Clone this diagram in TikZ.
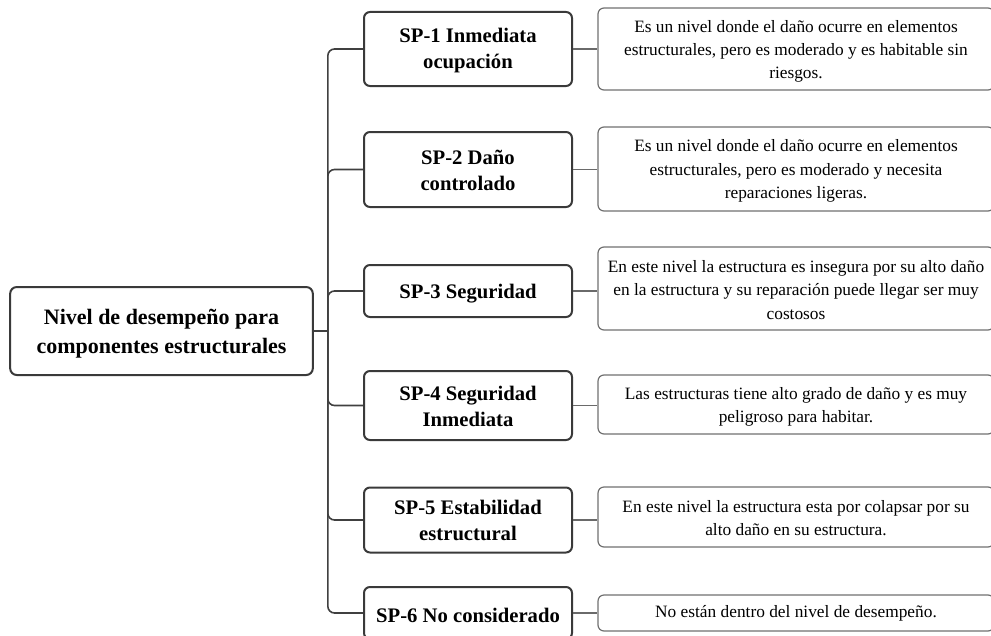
\documentclass[tikz,border=0pt]{standalone}
\usepackage{fontspec}
\setmainfont{Liberation Serif}
\definecolor{boxdark}{HTML}{3A3A3A}
\definecolor{boxgray}{HTML}{707070}
\definecolor{linedark}{HTML}{404040}
\definecolor{linegray}{HTML}{6A6A6A}
% invisible rule at the start of a first line: extends the text block upwards,
% so the centred block sits a little lower in its box
\newcommand\padtop[1]{\rule{0pt}{\dimexpr0.7em+#1\relax}}
\begin{document}
\begin{tikzpicture}[x=0.75pt,y=-0.75pt,
  rootbox/.style={draw=boxdark, line width=1.5pt, rounded corners=5pt,
    minimum width=227pt, minimum height=66pt, align=center, inner sep=0pt,
    font=\fontsize{16.5}{21.5}\selectfont\bfseries},
  levelbox/.style={draw=boxdark, line width=1.5pt, rounded corners=4.5pt,
    minimum width=156pt, align=center, inner sep=0pt,
    font=\fontsize{15.5}{19.5}\selectfont\bfseries},
  descbox/.style={draw=boxgray, line width=0.9pt, rounded corners=4.5pt,
    minimum width=297pt, align=center, inner sep=0pt,
    font=\fontsize{13}{17.4}\selectfont},
  trunk/.style={draw=linedark, line width=1.2pt, rounded corners=5pt},
  twig/.style={draw=linegray, line width=0.8pt}]
\useasboundingbox (0,0) rectangle (991,635);
\clip (0,0) rectangle (991,635);

% root
\node[rootbox] (root) at (161.5,331) {\padtop{4.2pt}Nivel de desempeño para\\componentes estructurales};

% performance levels
\node[levelbox, minimum height=55.5pt]  (sp1) at (468,49)    {\padtop{1.5pt}SP-1 Inmediata\\ocupación};
\node[levelbox, minimum height=56.25pt] (sp2) at (468,169.5) {\padtop{1.5pt}SP-2 Daño\\controlado};
\node[levelbox, minimum height=39pt]    (sp3) at (468,291)   {\padtop{4pt}SP-3 Seguridad};
\node[levelbox, minimum height=51.75pt] (sp4) at (468,405.5) {\padtop{1.5pt}SP-4 Seguridad\\Inmediata};
\node[levelbox, minimum height=48.75pt] (sp5) at (468,520)   {SP-5 Estabilidad\\estructural};
\node[levelbox, minimum height=39pt]    (sp6) at (468,613)   {\padtop{3pt}SP-6 No considerado};

% descriptions
\node[descbox, minimum height=61.5pt]  (r1) at (796,49)    {\padtop{3.6pt}Es un nivel donde el daño ocurre en elementos\\estructurales, pero es moderado y es habitable sin\\riesgos.};
\node[descbox, minimum height=63pt]    (r2) at (796,169)   {\padtop{3pt}Es un nivel donde el daño ocurre en elementos\\estructurales, pero es moderado y necesita\\reparaciones ligeras.};
\node[descbox, minimum height=62.25pt] (r3) at (796,288.5) {\padtop{2pt}En este nivel la estructura es insegura por su alto daño\\en la estructura y su reparación puede llegar ser muy\\costosos};
\node[descbox, minimum height=44.25pt] (r4) at (796,404.5) {\padtop{3pt}Las estructuras tiene alto grado de daño y es muy\\peligroso para habitar.};
\node[descbox, minimum height=45pt]    (r5) at (796,517)   {\padtop{1pt}En este nivel la estructura esta por colapsar por su\\alto daño en su estructura.};
\node[descbox, minimum height=27pt]    (r6) at (796,613)   {No están dentro del nivel de desempeño.};

% tree connectors: straight stub from the root, then rounded branches
\coordinate (junction) at ([xshift=10.5pt]root.east);
\draw[trunk, rounded corners=0pt] (root.east) -- (junction);
\foreach \n in {sp1,sp2,sp3,sp4,sp5,sp6}
  \draw[trunk] (junction) |- (\n.west);

% level to description connectors
\foreach \a/\b in {sp1/r1,sp2/r2,sp3/r3,sp4/r4,sp5/r5,sp6/r6}
  \draw[twig] (\a.east) -- (\a.east -| \b.west);
\end{tikzpicture}
\end{document}
